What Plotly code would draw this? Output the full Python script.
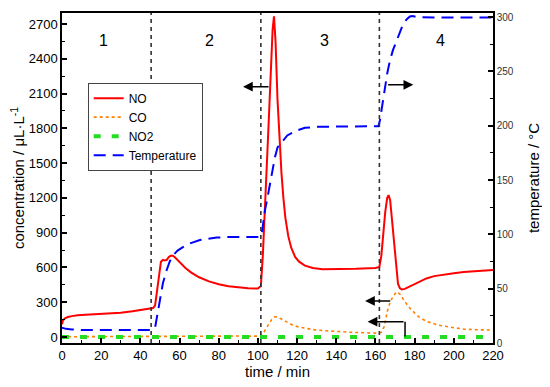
import plotly.graph_objects as go

# ---------------- data ----------------
no_t = [0, 0.5, 1.5, 3, 5, 8, 12, 18, 24, 30, 36, 40, 44, 46.5, 47.5, 48.5, 49.5, 50.5, 51.5, 52.5,
        53.5, 54.5, 55.5, 56.5, 57.5, 59, 61, 63, 66, 70, 75, 80, 85, 90, 95, 100, 101.5, 102.5, 103.5,
        104.5, 105.5, 106.5, 107.5, 108.2, 109, 110, 111, 112, 113, 114, 115.5, 117, 119, 121, 124, 128,
        133, 140, 150, 160, 162, 163, 164, 165, 166, 166.7, 167.5, 168.5, 169.5, 170.5, 171.5, 172.5,
        173.5, 175, 178, 182, 186, 190, 195, 200, 205, 210, 215, 220]
no_v = [110, 145, 160, 172, 180, 188, 192, 196, 200, 208, 222, 232, 243, 250, 270, 400, 560, 650, 665, 660,
        665, 690, 700, 700, 690, 665, 630, 595, 555, 515, 480, 455, 437, 427, 420, 418, 440, 700, 1050,
        1450, 1850, 2250, 2650, 2767, 2550, 2050, 1700, 1420, 1200, 1030, 870, 770, 690, 650, 615, 595,
        585, 585, 588, 595, 605, 700, 900, 1080, 1200, 1224, 1180, 1000, 780, 580, 460, 420,
        410, 415, 440, 475, 505, 525, 540, 550, 560, 568, 574, 578]

co_t = [0, 10, 20, 30, 40, 46, 50, 55, 60, 70, 80, 90, 100, 101.5, 103, 105, 107, 108.7, 110, 112, 115,
        118, 121, 124, 128, 133, 140, 148, 155, 161, 163, 164.5, 166, 167.5, 169, 170.8, 172.5, 175, 178,
        182, 186, 192, 198, 205, 212, 220]
co_v = [2, 3, 4, 4, 5, 6, 8, 10, 11, 11, 10, 8, 7, 7, 40, 100, 150, 175, 172, 155, 125,
        100, 85, 75, 64, 55, 46, 40, 36, 33, 40, 90, 220, 300, 350, 390, 370, 305, 240,
        175, 135, 103, 85, 68, 62, 60]

no2_t = [0, 50, 100, 150, 220]
no2_v = [0, 0, 0, 0, 0]

temp_t = [0, 2, 5, 10, 20, 30, 40, 46, 47.5, 49, 50, 51.5, 53.4, 55, 56.8, 59, 61.9, 65, 70.4, 75, 79,
          85, 90, 95, 101, 102, 103.6, 105, 106.2, 107.5, 108.7, 110, 112.1, 115, 118.9, 124, 130, 140,
          150, 160, 161.5, 162.3, 163.5, 164.9, 166, 167.4, 169, 170.9, 172.5, 174.2, 176, 177.6, 179,
          181, 190, 200, 210, 220]
temp_v = [14, 13, 12.5, 12, 12, 12, 12, 12, 14, 30, 42, 55, 67, 75, 81, 85, 88.5, 91.5, 94.7, 96, 97,
          97.5, 97.5, 97.5, 97.5, 101, 122, 135, 147, 160, 171, 180, 185, 191, 195, 198, 199, 199,
          199, 199, 199.5, 205, 220, 235.6, 248, 260, 270, 278.5, 287, 294, 298, 300.5, 301,
          300, 299.5, 299.5, 299.5, 299.5]

stage_x = [45.5, 101.5, 162]
stage_labels = ["1", "2", "3", "4"]
stage_label_x = [21, 75.5, 134, 193]

FONT = "Arial, Liberation Sans, sans-serif"

fig = go.Figure()
fig.add_trace(go.Scatter(x=no_t, y=no_v, name="NO", mode="lines",
                         line=dict(color="#ff0000", width=2)))
fig.add_trace(go.Scatter(x=co_t, y=co_v, name="CO", mode="lines",
                         line=dict(color="#ff8000", width=1.6, dash="dot")))
fig.add_trace(go.Scatter(x=no2_t, y=no2_v, name="NO2", mode="lines",
                         line=dict(color="#22dd22", width=4, dash="7px,11px")))
fig.add_trace(go.Scatter(x=temp_t, y=temp_v, name="Temperature", mode="lines", yaxis="y2",
                         line=dict(color="#0000ff", width=2, dash="12px,7px")))

shapes = []
for xv in stage_x:
    shapes.append(dict(type="line", xref="x", yref="paper", x0=xv, x1=xv, y0=0, y1=1,
                       line=dict(color="#333333", width=1.6, dash="4px,4px")))
# bracket for the lower arrow
shapes.append(dict(type="line", xref="x", yref="y", x0=175.1, x1=175.1, y0=3, y1=132,
                   line=dict(color="black", width=1.5)))

annotations = []
for lx, lt in zip(stage_label_x, stage_labels):
    annotations.append(dict(x=lx, y=2556, xref="x", yref="y", text=lt, showarrow=False,
                            font=dict(size=16, color="black", family=FONT)))

arrows = [
    (92.4, 2159, 106.2, 2159),
    (179.3, 2176, 165.7, 2176),
    (154.7, 311, 168.3, 311),
    (156.0, 132, 175.1, 132),
]
for hx, hy, tx, ty in arrows:
    annotations.append(dict(x=hx, y=hy, ax=tx, ay=ty, xref="x", yref="y", axref="x", ayref="y",
                            showarrow=True, arrowhead=2, arrowsize=1.3, arrowwidth=1.5,
                            arrowcolor="black", text=""))

fig.update_layout(
    width=542, height=379,
    margin=dict(l=54, r=57, t=5, b=44, autoexpand=False),
    paper_bgcolor="white", plot_bgcolor="white",
    font=dict(family=FONT, color="black", size=12),
    showlegend=True,
    legend=dict(x=0.0596, y=0.789, xanchor="left", yanchor="top",
                bordercolor="#444444", borderwidth=1, bgcolor="white",
                font=dict(size=12, family=FONT), tracegroupgap=0),
    xaxis=dict(range=[0, 220], tickmode="linear", tick0=0, dtick=20, automargin=False,
               ticks="inside", ticklen=5, tickwidth=1.5, tickcolor="black",
               minor=dict(ticks="inside", ticklen=3, dtick=10, tickcolor="black", tickwidth=1),
               showline=True, linecolor="black", linewidth=1.5, mirror=True,
               showgrid=False, zeroline=False,
               tickfont=dict(size=13, family=FONT),
               title=dict(text="time / min", font=dict(size=15, family=FONT), standoff=4)),
    yaxis=dict(range=[-52, 2795], tickmode="array", automargin=False,
               tickvals=[0, 300, 600, 900, 1200, 1500, 1800, 2100, 2400, 2700],
               ticks="inside", ticklen=5, tickwidth=1.5, tickcolor="black",
               minor=dict(ticks="inside", ticklen=3, tickvals=[150, 450, 750, 1050, 1350, 1650, 1950, 2250, 2550],
                          tickcolor="black", tickwidth=1),
               showline=True, linecolor="black", linewidth=1.5,
               showgrid=False, zeroline=False,
               tickfont=dict(size=13, family=FONT),
               title=dict(text="concentration / μL·L<sup>-1</sup>", font=dict(size=15, family=FONT), standoff=4)),
    yaxis2=dict(range=[0, 303.7], overlaying="y", side="right", tickmode="linear", tick0=0, dtick=50,
                automargin=False,
                ticks="inside", ticklen=5, tickwidth=1.5, tickcolor="black",
                minor=dict(ticks="inside", ticklen=3, dtick=25, tickcolor="black", tickwidth=1),
                showline=True, linecolor="black", linewidth=1.5,
                showgrid=False, zeroline=False,
                tickfont=dict(size=10, family=FONT, color="#333333"),
                title=dict(text="temperature / °C", font=dict(size=15, family=FONT), standoff=16)),
    shapes=shapes,
    annotations=annotations,
)

fig.write_html("out.html")
